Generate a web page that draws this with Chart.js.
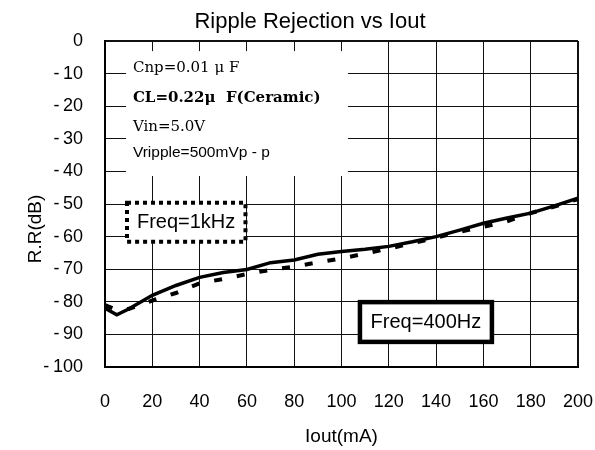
<!DOCTYPE html>
<html>
<head>
<meta charset="utf-8">
<script src="https://cdn.jsdelivr.net/npm/chart.js@4/dist/chart.umd.min.js"></script>
<style>
  html, body { margin: 0; padding: 0; background: #fff; }
  #wrap { width: 595px; height: 450px; }
</style>
</head>
<body>
<div id="wrap"><canvas id="c" width="595" height="450"></canvas></div>
<script>
// ---- data ----
const iout = [0, 5, 10, 20, 30, 40, 50, 60, 70, 80, 90, 100, 110, 120, 130, 140, 150, 160, 170, 180, 190, 200];
const rr400Hz = [-82, -84, -82.2, -78, -75, -72.5, -71, -70.1, -68, -67.2, -65.4, -64.6, -63.9, -63, -61.6, -60, -58, -55.9, -54.3, -52.8, -50.6, -48.2];
const rr1kHz = [-81, -82.5, -82.2, -79.6, -77.3, -74.3, -73, -71.5, -70.2, -69.2, -67.9, -66.7, -65.2, -63.7, -62, -60.4, -58.5, -57, -55.3, -52.8, -50.8, -48.5];
const xTicks = [0, 20, 40, 60, 80, 100, 120, 140, 160, 180, 200];
const yTicks = [0, -10, -20, -30, -40, -50, -60, -70, -80, -90, -100];

const titleText = 'Ripple Rejection vs Iout';
const xTitle = 'Iout(mA)';
const yTitle = 'R.R(dB)';
const infoLines = ['Cnp=0.01 μ F', 'CL=0.22μ  F(Ceramic)', 'Vin=5.0V', 'Vripple=500mVp - p'];
const label1k = 'Freq=1kHz';
const label400 = 'Freq=400Hz';

// ---- annotation placement (data units) ----
const annot = {
  infoBox: { x0: 8.9, x1: 102.7, y0: -3.1, y1: -41.4 },
  info: [
    { x: 11.8, y: -8.3, font: '15px "DejaVu Serif"' },
    { x: 11.8, y: -17.5, font: 'bold 15px "DejaVu Serif"' },
    { x: 11.8, y: -26.4, font: '15px "DejaVu Serif"' },
    { x: 11.8, y: -34.4, font: '15.5px "Liberation Sans"' }
  ],
  box1k: { x0: 9.3, x1: 59.4, y0: -49.6, y1: -61.6, tx: 34.3, ty: -55.6 },
  box400: { x0: 107.8, x1: 163.6, y0: -80.1, y1: -92.3, tx: 135.7, ty: -86.2 }
};

const mk = (ys) => iout.map((x, i) => ({ x, y: ys[i] }));

const annotPlugin = {
  id: 'annot',
  beforeDraw(chart) {
    const c = chart.ctx;
    c.save();
    c.fillStyle = '#fff';
    c.fillRect(0, 0, chart.width, chart.height);
    c.restore();
  },
  beforeDatasetsDraw(chart) {
    const c = chart.ctx, xs = chart.scales.x, ys = chart.scales.y;
    const px = v => xs.getPixelForValue(v), py = v => ys.getPixelForValue(v);
    c.save();
    const b = annot.infoBox;
    c.fillStyle = '#fff';
    c.fillRect(px(b.x0), py(b.y0), px(b.x1) - px(b.x0), py(b.y1) - py(b.y0));
    c.fillStyle = '#000';
    c.textAlign = 'left';
    c.textBaseline = 'middle';
    infoLines.forEach((t, i) => {
      const a = annot.info[i];
      c.font = a.font;
      c.fillText(t, px(a.x), py(a.y));
    });
    const k = annot.box1k;
    c.fillStyle = '#fff';
    c.fillRect(px(k.x0), py(k.y0), px(k.x1) - px(k.x0), py(k.y1) - py(k.y0));
    c.strokeStyle = '#000';
    c.lineWidth = 4;
    c.setLineDash([4, 4]);
    c.strokeRect(px(k.x0), py(k.y0), px(k.x1) - px(k.x0), py(k.y1) - py(k.y0));
    c.setLineDash([]);
    c.fillStyle = '#000';
    c.font = '20px "Liberation Sans"';
    c.textAlign = 'center';
    c.fillText(label1k, px(k.tx), py(k.ty));
    const f = annot.box400;
    c.fillStyle = '#fff';
    c.fillRect(px(f.x0), py(f.y0), px(f.x1) - px(f.x0), py(f.y1) - py(f.y0));
    c.lineWidth = 4.5;
    c.strokeStyle = '#000';
    c.strokeRect(px(f.x0), py(f.y0), px(f.x1) - px(f.x0), py(f.y1) - py(f.y0));
    c.fillStyle = '#000';
    c.fillText(label400, px(f.tx), py(f.ty));
    c.restore();
  },
  afterDraw(chart) {
    const c = chart.ctx, a = chart.chartArea;
    c.save();
    c.fillStyle = '#000';
    c.textAlign = 'center';
    c.textBaseline = 'middle';
    c.font = '22px "Liberation Sans"';
    c.fillText(titleText, 310, 22);
    c.font = '19px "Liberation Sans"';
    c.fillText(xTitle, (a.left + a.right) / 2, 437);
    c.translate(36, 229);
    c.rotate(-Math.PI / 2);
    c.fillText(yTitle, 0, 0);
    c.restore();
  }
};

new Chart(document.getElementById('c'), {
  type: 'line',
  data: {
    datasets: [
      { label: '400Hz', data: mk(rr400Hz), borderColor: '#000', borderWidth: 3.5, pointRadius: 0, tension: 0, fill: false },
      { label: '1kHz', data: mk(rr1kHz), borderColor: '#000', borderWidth: 4, borderDash: [8, 15], pointRadius: 0, tension: 0, fill: false }
    ]
  },
  options: {
    responsive: false,
    animation: false,
    devicePixelRatio: 1,
    layout: { padding: { top: 41, right: 17, bottom: 0, left: 0 } },
    plugins: { legend: { display: false }, tooltip: { enabled: false }, title: { display: false } },
    scales: {
      x: {
        type: 'linear', min: 0, max: 200,
        afterFit: s => { s.height = 83; s.paddingLeft = 0; s.paddingRight = 0; },
        afterBuildTicks: s => { s.ticks = xTicks.map(v => ({ value: v })); },
        ticks: { color: '#000', font: { family: 'Liberation Sans', size: 18 }, padding: 24, maxRotation: 0, autoSkip: false },
        grid: { color: '#111', lineWidth: ctx => (ctx.tick && ctx.tick.value === 200 ? 2 : 1), drawTicks: false },
        border: { display: true, color: '#000', width: 2 }
      },
      y: {
        type: 'linear', min: -100, max: 0,
        afterFit: s => { s.width = 105; s.paddingTop = 0; s.paddingBottom = 0; },
        afterBuildTicks: s => { s.ticks = yTicks.map(v => ({ value: v })); },
        ticks: {
          color: '#000', font: { family: 'Liberation Sans', size: 18 }, padding: 22, autoSkip: false,
          callback: v => (v < 0 ? '-\u2009' + Math.abs(v) : String(v))
        },
        grid: { color: '#111', lineWidth: ctx => (ctx.tick && ctx.tick.value === 0 ? 2 : 1), drawTicks: false },
        border: { display: true, color: '#000', width: 2 }
      }
    }
  },
  plugins: [annotPlugin]
});
</script>
</body>
</html>
